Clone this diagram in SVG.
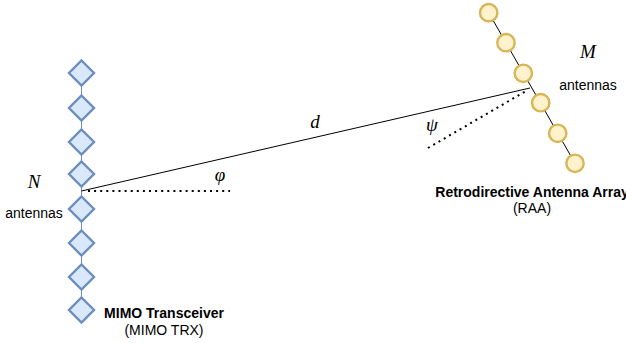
<svg xmlns="http://www.w3.org/2000/svg" width="626" height="343" viewBox="0 0 626 343">
<style>
.d{fill:#dae8fc;stroke:#6c8ebf;stroke-width:2.4}
.c{fill:#fff2cc;stroke:#d6b656;stroke-width:2.4}
.t{font-family:"Liberation Sans",Arial,sans-serif;font-size:14px;fill:#000;text-anchor:middle}
.b{font-weight:bold}
.m{font-family:"Liberation Serif","Times New Roman",serif;font-style:italic;font-size:19px;fill:#000;text-anchor:middle}
</style>
<defs>
<polygon id="dm" class="d" points="0,-12.5 12.5,0 0,12.5 -12.5,0"/>
</defs>
<g id="connectors" fill="none">
<line x1="81.5" y1="73" x2="81.5" y2="310" stroke="#6c8ebf" stroke-width="1"/>
<line x1="488.7" y1="12.7" x2="575" y2="163.3" stroke="#000" stroke-width="1"/>
<line x1="81.5" y1="191" x2="530" y2="88" stroke="#000" stroke-width="1"/>
<line x1="88" y1="191" x2="230" y2="191" stroke="#000" stroke-width="2" stroke-dasharray="2 4.1"/>
<line x1="428" y1="148" x2="526" y2="91" stroke="#000" stroke-width="2" stroke-dasharray="2 4.1"/>
</g>
<g id="trx-1"><use href="#dm" x="81.5" y="73"/></g>
<g id="trx-2"><use href="#dm" x="81.5" y="108"/></g>
<g id="trx-3"><use href="#dm" x="81.5" y="142"/></g>
<g id="trx-4"><use href="#dm" x="81.5" y="174"/></g>
<g id="trx-5"><use href="#dm" x="81.5" y="209"/></g>
<g id="trx-6"><use href="#dm" x="81.5" y="243"/></g>
<g id="trx-7"><use href="#dm" x="81.5" y="277"/></g>
<g id="trx-8"><use href="#dm" x="81.5" y="310"/></g>
<g id="raa-1"><circle class="c" cx="488.7" cy="12.7" r="8.7"/></g>
<g id="raa-2"><circle class="c" cx="506" cy="42.7" r="8.7"/></g>
<g id="raa-3"><circle class="c" cx="523.3" cy="73.3" r="8.7"/></g>
<g id="raa-4"><circle class="c" cx="540.7" cy="102.7" r="8.7"/></g>
<g id="raa-5"><circle class="c" cx="557.7" cy="133.3" r="8.7"/></g>
<g id="raa-6"><circle class="c" cx="575" cy="163.3" r="8.7"/></g>
<g id="labels">
<text class="m" x="34" y="188">N</text>
<text class="t" x="34" y="218">antennas</text>
<text class="t b" x="164" y="318">MIMO Transceiver</text>
<text class="t" x="164" y="335">(MIMO TRX)</text>
<text class="m" x="315" y="128">d</text>
<text class="m" x="220" y="181">φ</text>
<text class="m" x="432" y="131">ψ</text>
<text class="m" x="588" y="58">M</text>
<text class="t" x="588" y="90">antennas</text>
<text class="t b" x="532" y="197">Retrodirective Antenna Array</text>
<text class="t" x="532" y="213">(RAA)</text>
</g>
</svg>
